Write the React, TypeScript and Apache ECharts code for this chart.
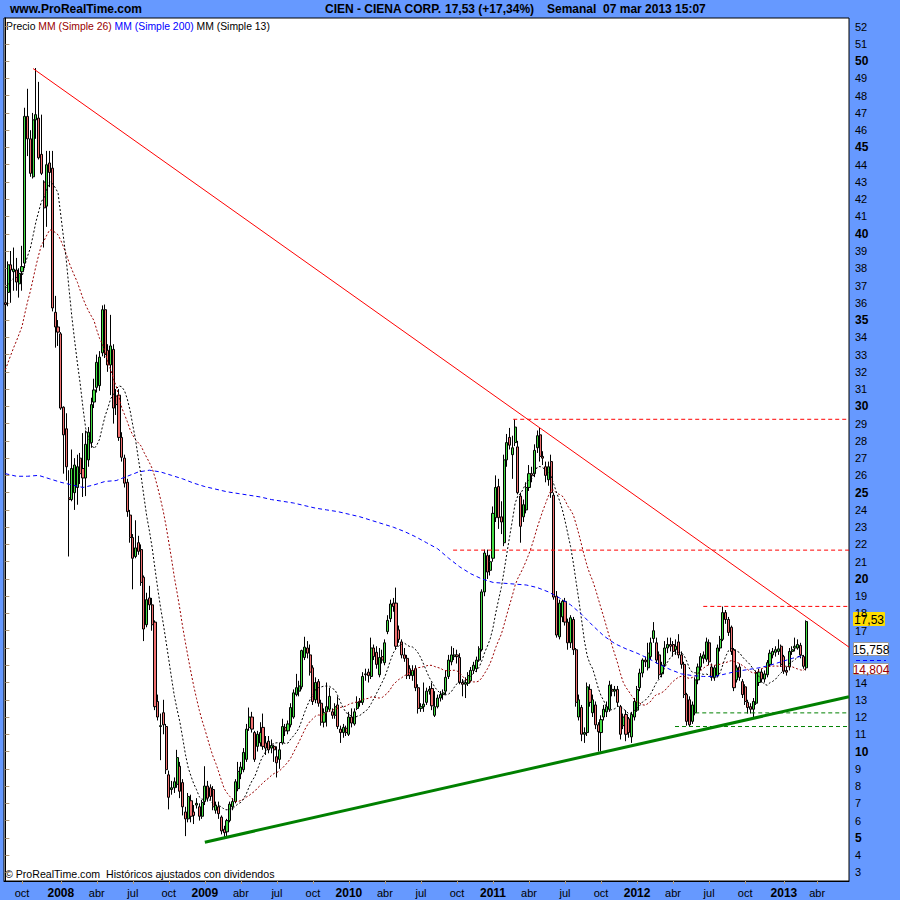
import React, { useEffect, useRef } from 'react';
import * as echarts from 'echarts';

const FONT = '"Liberation Sans", Arial, Helvetica, sans-serif';

// Weekly candles, [open, close, low, high]; first week = 2007-08-20
const ohlc2007 = [
  [36.0, 35.9, 35.7, 36.2], [36.6, 38.2, 35.8, 38.4], [38.2, 37.9, 36.0, 39.0], [37.8, 37.95, 36.7, 39.2],
  [37.9, 37.2, 36.7, 38.6], [37.1, 37.7, 36.3, 38.0], [37.8, 38.1, 36.7, 39.3], [38.3, 46.8, 38.0, 47.3],
  [46.8, 45.5, 44.5, 48.4], [45.5, 43.5, 43.3, 46.0], [43.3, 46.6, 43.2, 47.0], [46.6, 46.9, 45.5, 49.6],
  [46.7, 44.4, 44.3, 48.8], [44.6, 43.5, 43.4, 46.9], [43.0, 41.5, 39.2, 43.1], [41.6, 44.0, 40.4, 44.8],
  [44.1, 43.55, 42.7, 44.8], [43.8, 35.7, 35.5, 44.8], [35.45, 34.6, 33.4, 36.4], [34.6, 34.3, 33.5, 35.0],
];
const ohlc2008 = [
  [34.2, 29.9, 29.8, 34.3], [29.95, 28.35, 26.1, 30.0], [28.7, 26.5, 25.7, 29.6], [24.7, 24.6, 21.3, 26.3],
  [24.6, 26.4, 24.5, 27.5], [25.0, 26.6, 24.0, 27.0], [25.3, 26.5, 24.3, 27.2], [27.0, 26.1, 25.5, 27.3],
  [26.4, 25.85, 24.75, 28.45], [25.85, 27.8, 24.8, 28.6], [26.9, 28.5, 26.5, 28.8], [27.9, 30.1, 27.6, 30.5],
  [30.25, 30.95, 29.9, 31.6], [31.1, 32.55, 30.8, 33.0], [31.2, 32.85, 30.9, 33.2], [33.1, 35.6, 32.9, 35.85],
  [35.6, 33.0, 32.8, 35.9], [33.25, 32.4, 32.0, 33.6], [32.4, 33.5, 30.65, 35.3], [33.3, 29.9, 29.0, 33.6],
  [30.6, 30.1, 29.5, 31.0], [30.65, 28.2, 28.0, 31.0], [28.2, 27.05, 26.8, 28.5], [27.0, 25.55, 25.3, 27.2],
  [25.6, 23.9, 23.6, 25.8], [23.7, 22.4, 22.1, 24.0], [22.4, 21.2, 19.4, 22.6], [21.3, 21.8, 21.2, 23.4],
  [22.1, 21.6, 21.4, 22.5], [21.7, 19.8, 19.6, 22.0], [20.1, 17.1, 16.4, 20.2], [17.35, 18.8, 17.2, 19.2],
  [18.9, 18.5, 18.2, 19.6], [18.5, 17.35, 17.0, 18.9], [17.5, 12.6, 12.4, 17.6], [12.9, 12.0, 11.8, 13.3],
  [11.45, 11.5, 9.5, 12.2], [12.25, 11.55, 11.0, 13.0], [11.45, 8.95, 8.7, 11.6], [8.65, 7.35, 6.65, 8.9],
  [7.8, 7.9, 7.5, 8.3], [7.9, 8.25, 7.6, 8.5], [8.1, 9.65, 7.9, 10.1], [9.15, 7.7, 7.3, 9.4],
  [8.2, 6.8, 6.3, 8.4], [6.5, 6.1, 5.1, 6.8], [6.1, 7.4, 5.9, 7.6], [7.15, 6.25, 5.9, 7.5],
  [6.5, 6.3, 5.8, 6.9], [6.9, 7.0, 6.7, 7.3], [6.8, 6.25, 6.0, 7.0], [6.25, 7.05, 6.1, 7.2],
];
const ohlc2009 = [
  [7.1, 8.0, 6.9, 9.15], [8.0, 7.3, 7.1, 8.3], [7.9, 7.4, 7.2, 8.1], [7.8, 6.8, 6.6, 8.0],
  [6.6, 6.9, 6.4, 7.1], [6.8, 6.4, 6.1, 7.1], [6.2, 5.4, 5.2, 6.3], [5.5, 5.3, 5.0, 5.7],
  [5.35, 6.0, 5.1, 6.1], [6.0, 6.95, 5.9, 7.1], [6.8, 7.1, 6.6, 7.3], [7.1, 8.25, 7.0, 8.4],
  [7.85, 8.85, 7.7, 9.4], [8.7, 9.1, 8.4, 9.4], [8.95, 9.95, 8.8, 10.2], [9.55, 11.3, 9.4, 11.6],
  [11.4, 12.0, 11.2, 12.55], [12.0, 11.3, 11.1, 12.3], [11.1, 9.55, 9.4, 11.2], [10.3, 11.0, 10.0, 11.2],
  [10.5, 11.1, 10.3, 11.7], [11.4, 10.3, 10.1, 12.2], [10.5, 10.2, 9.8, 10.9], [10.6, 10.1, 9.9, 10.9],
  [10.2, 10.35, 9.9, 10.7], [10.3, 10.1, 9.4, 10.4], [9.7, 9.35, 8.5, 10.3], [9.55, 10.1, 9.0, 10.5],
  [10.5, 11.45, 10.4, 11.9], [11.4, 11.2, 10.9, 11.6], [11.2, 11.6, 11.0, 11.8], [11.55, 12.55, 11.4, 12.8],
  [12.0, 13.4, 11.9, 13.6], [13.3, 13.7, 13.2, 14.5], [13.5, 13.8, 13.2, 14.1], [13.75, 15.85, 13.6, 15.9],
  [15.45, 16.05, 15.3, 16.65], [16.0, 15.7, 15.4, 16.4], [15.6, 14.6, 14.4, 16.2], [14.85, 12.9, 12.7, 15.0],
  [13.0, 14.0, 12.8, 14.3], [14.05, 12.8, 12.6, 14.2], [12.8, 11.7, 11.5, 13.0], [11.7, 12.25, 11.4, 12.5],
  [12.3, 12.6, 11.45, 14.0], [12.45, 13.2, 12.3, 13.7], [12.3, 12.1, 11.9, 12.5], [12.1, 12.6, 11.9, 12.8],
  [12.7, 11.45, 11.3, 13.2], [11.3, 11.1, 10.5, 11.5], [11.1, 11.4, 10.8, 11.6], [11.35, 11.1, 10.9, 11.5],
];
const ohlc2010 = [
  [11.0, 12.0, 10.9, 12.3], [12.0, 11.65, 11.4, 12.5], [11.6, 12.3, 11.5, 12.5], [12.5, 12.85, 12.4, 13.2],
  [12.85, 12.9, 12.6, 13.1], [12.85, 14.35, 12.7, 14.6], [14.5, 14.45, 14.1, 14.8], [14.6, 14.4, 14.0, 14.8],
  [14.35, 16.0, 14.2, 16.6], [16.0, 15.5, 15.3, 16.2], [15.75, 15.05, 14.8, 16.1], [14.45, 15.45, 14.3, 16.0],
  [15.5, 15.3, 15.1, 15.9], [15.15, 16.3, 15.0, 16.5], [16.95, 17.6, 16.8, 17.9], [17.7, 18.55, 17.5, 18.8],
  [18.6, 18.4, 18.1, 18.9], [18.6, 16.1, 15.9, 19.5], [17.05, 16.5, 16.3, 17.3], [16.35, 15.6, 15.4, 16.5],
  [15.6, 15.4, 15.2, 16.0], [15.4, 14.4, 14.2, 15.6], [14.8, 14.4, 14.2, 15.0], [14.4, 14.7, 14.1, 15.0],
  [14.8, 13.7, 13.5, 15.0], [13.7, 12.5, 12.2, 13.9], [12.5, 12.6, 12.3, 12.8], [12.6, 12.75, 12.3, 14.0],
  [12.85, 13.5, 12.7, 13.7], [13.5, 13.6, 13.3, 13.8], [13.65, 12.65, 12.4, 14.0], [12.1, 12.6, 12.0, 13.5],
  [12.6, 13.1, 12.5, 13.3], [13.1, 13.3, 12.9, 13.5], [13.3, 13.4, 13.0, 13.6], [13.5, 14.3, 13.3, 14.7],
  [14.35, 15.3, 14.2, 15.6], [15.2, 15.6, 15.0, 16.1], [15.5, 15.6, 15.3, 16.0], [15.6, 15.5, 15.1, 15.9],
  [15.45, 14.0, 13.9, 15.7], [14.0, 13.9, 13.2, 14.2], [13.9, 14.0, 13.1, 14.3], [13.95, 14.4, 13.8, 14.6],
  [14.1, 14.7, 14.0, 14.9], [14.7, 15.0, 14.5, 15.2], [14.8, 15.3, 14.6, 15.5], [15.3, 15.95, 15.2, 16.1],
  [15.9, 19.25, 15.8, 19.4], [19.25, 21.5, 19.0, 21.7], [21.35, 20.4, 20.0, 21.7], [20.5, 21.0, 20.2, 21.4],
];
const ohlc2011 = [
  [21.2, 23.8, 21.0, 24.2], [23.55, 25.3, 23.3, 26.0], [25.35, 23.55, 22.9, 25.8], [23.6, 23.3, 22.6, 24.5],
  [22.1, 26.9, 21.9, 27.2], [26.9, 27.9, 26.5, 28.4], [28.2, 27.75, 27.5, 28.75], [27.2, 27.6, 25.8, 28.3],
  [27.9, 28.8, 27.7, 29.25], [27.65, 25.0, 24.9, 28.0], [24.8, 23.05, 22.1, 25.0], [23.6, 24.3, 23.3, 24.6],
  [24.0, 25.3, 23.8, 25.6], [25.3, 26.1, 25.1, 26.6], [26.1, 26.0, 25.6, 26.5], [26.1, 27.45, 25.9, 27.8],
  [27.6, 28.3, 27.3, 28.6], [28.35, 27.1, 26.8, 28.75], [27.1, 27.0, 26.6, 27.4], [26.5, 26.0, 25.6, 26.8],
  [25.75, 26.5, 25.4, 26.8], [26.8, 25.0, 24.7, 27.2], [24.85, 18.95, 18.8, 25.0], [19.0, 16.75, 16.6, 19.3],
  [16.65, 18.6, 16.5, 18.8], [17.8, 18.7, 17.5, 18.8], [18.7, 17.5, 17.3, 18.9], [17.5, 16.3, 15.9, 17.7],
  [16.3, 17.75, 16.0, 17.9], [17.65, 15.9, 15.6, 17.8], [15.9, 12.85, 12.6, 16.0], [12.0, 13.0, 11.8, 13.3],
  [12.55, 11.0, 10.6, 12.7], [11.0, 11.1, 10.5, 11.4], [11.1, 13.75, 10.9, 14.0], [13.6, 12.85, 12.6, 13.9],
  [12.25, 13.0, 12.0, 13.3], [12.7, 11.55, 11.3, 12.9], [11.55, 11.15, 10.0, 11.7], [11.1, 11.85, 10.0, 12.1],
  [12.0, 12.45, 11.8, 12.7], [12.3, 12.6, 12.0, 12.9], [12.45, 13.85, 12.3, 14.1], [13.6, 13.5, 13.2, 13.9],
  [13.5, 13.6, 13.2, 13.8], [13.6, 12.85, 12.6, 13.8], [12.6, 11.0, 10.7, 12.7], [11.5, 12.0, 11.3, 12.2],
  [12.15, 11.0, 10.6, 12.4], [11.9, 11.1, 10.8, 12.0], [10.85, 12.15, 10.5, 12.3], [12.0, 12.9, 11.8, 13.1],
];
const ohlc2012 = [
  [12.4, 13.6, 12.3, 13.8], [13.7, 14.55, 13.5, 14.8], [14.55, 15.3, 14.3, 15.4], [15.3, 15.2, 14.9, 15.5],
  [14.85, 15.7, 14.7, 16.3], [15.5, 16.3, 15.3, 16.6], [16.55, 17.0, 16.3, 17.5], [16.3, 15.3, 15.1, 16.6],
  [15.6, 14.45, 14.2, 15.8], [14.5, 15.0, 14.3, 15.2], [15.05, 16.0, 14.9, 16.4], [16.0, 16.2, 15.7, 16.6],
  [16.2, 16.1, 15.8, 16.6], [16.2, 15.8, 15.5, 16.4], [15.9, 16.1, 15.6, 16.5], [16.35, 15.6, 15.4, 16.8],
  [15.6, 15.05, 14.8, 15.8], [15.05, 13.3, 13.1, 15.2], [13.3, 11.75, 11.5, 13.4], [13.0, 11.55, 11.45, 13.2],
  [11.75, 12.7, 11.6, 12.9], [12.25, 14.15, 12.1, 14.3], [14.15, 14.9, 13.9, 15.1], [14.9, 15.5, 14.7, 15.7],
  [15.4, 15.6, 15.1, 15.8], [15.35, 16.35, 15.2, 16.6], [16.3, 15.2, 15.0, 16.5], [14.9, 14.3, 14.1, 15.1],
  [14.3, 14.85, 14.1, 15.0], [14.4, 16.0, 14.3, 16.2], [16.0, 16.5, 15.8, 16.7], [16.5, 18.05, 16.4, 18.4],
  [18.05, 17.65, 17.4, 18.2], [17.65, 16.9, 16.7, 17.8], [17.2, 15.8, 15.6, 17.3], [15.9, 13.7, 13.5, 16.0],
  [14.15, 14.85, 14.0, 15.0], [14.9, 14.3, 14.1, 15.1], [14.05, 13.3, 13.1, 14.2], [13.75, 12.9, 12.7, 13.9],
  [12.85, 12.55, 12.2, 13.0], [12.6, 12.45, 12.2, 12.8], [12.45, 12.9, 12.0, 13.1], [12.8, 14.55, 12.7, 14.7],
  [14.0, 14.6, 13.8, 14.8], [14.6, 14.2, 14.0, 14.8], [14.2, 14.5, 14.0, 14.7], [14.45, 15.15, 14.3, 15.3],
  [15.05, 15.7, 14.9, 15.9], [15.6, 15.8, 15.4, 16.0], [15.75, 15.9, 15.5, 16.1], [15.8, 15.95, 15.6, 16.5],
  [16.1, 15.05, 14.9, 16.2],
];
const ohlc2013 = [
  [15.5, 14.65, 14.5, 15.6], [14.7, 14.6, 14.4, 14.9], [14.9, 15.8, 14.7, 16.0], [15.8, 15.9, 15.6, 16.1],
  [16.0, 16.1, 15.8, 16.6], [16.0, 16.2, 15.9, 16.5], [16.15, 15.6, 15.4, 16.3], [15.5, 14.94, 14.8, 15.6],
  [14.85, 17.53, 14.7, 17.6],
];

// closes before the first visible week (feed the 13/26 week averages)
const priorCloses = [
  26.5, 26.8, 27.0, 27.3, 26.9, 27.2, 27.6, 27.4, 27.8, 27.9, 28.0, 27.6, 28.3,
  34.5, 35.5, 36.0, 36.8, 37.5, 37.8, 38.2, 38.5, 37.6, 37.0, 36.8, 36.5,
];

// 200-week average, read every 4 weeks
const ma200Every4 = [
  26.1, 25.95, 25.95, 26.0, 25.8, 25.6, 25.45, 25.3, 25.45, 25.65,
  25.7, 25.95, 26.2, 26.3, 26.2, 26.0, 25.8, 25.55, 25.35, 25.2,
  25.05, 24.95, 24.85, 24.75, 24.6, 24.5, 24.4, 24.25, 24.1, 24.0,
  23.9, 23.75, 23.6, 23.4, 23.2, 23.0, 22.75, 22.45, 22.1, 21.75,
  21.2, 20.7, 20.3, 20.0, 19.8, 19.75, 19.7, 19.65, 19.5, 19.25,
  18.9, 18.5, 17.95, 17.3, 16.7, 16.25, 15.95, 15.7, 15.4, 15.05,
  14.75, 14.5, 14.4, 14.35, 14.35, 14.5, 14.65, 14.75, 14.85, 15.0,
  15.2, 15.4, 15.55,
];

// trend lines: [weekIndex, price]
const resistanceLine = [[10, 49.57], [304.5, 16.05]];
const supportLine = [[72, 4.75], [304.5, 13.18]];
// horizontal levels: [startWeekIndex, price, colour]
const levels: [number, number, string][] = [
  [183.3, 29.25, '#ff0000'],
  [161.6, 21.67, '#ff0000'],
  [251.9, 18.41, '#ff0000'],
  [249.0, 12.24, '#008000'],
  [241.7, 11.45, '#008000'],
];

// price-axis labels (15 and 16 sit under the value tags)
const yTicks = Array.from({ length: 50 }, (_, i) => 3 + i);
const yLabelValues = yTicks.filter((v) => v !== 15 && v !== 16);
const monthTickNames = ['', '', '', 'abr', '', '', 'jul', '', '', 'oct', '', ''];
const START_UTC = Date.UTC(2007, 7, 20);
const TOTAL_SLOTS = 305;

const lastPriceTag = { value: 17.53, text: '17,53' };
const ma13Tag = { value: 15.758, text: '15,758' };
const ma26Tag = { value: 14.804, text: '14,804' };
const ma200Tag = 15.33;

const ohlc = [...ohlc2007, ...ohlc2008, ...ohlc2009, ...ohlc2010, ...ohlc2011, ...ohlc2012, ...ohlc2013];
const closes = ohlc.map((d) => d[1]);
const categories = Array.from({ length: TOTAL_SLOTS }, (_, i) =>
  new Date(START_UTC + i * 7 * 86400000).toISOString().slice(0, 10)
);

function tickLabel(i: number): string | null {
  const d = new Date(START_UTC + i * 7 * 86400000);
  if (d.getUTCDate() > 7) return null;
  const m = d.getUTCMonth();
  if (m === 0) return String(d.getUTCFullYear());
  return monthTickNames[m] || null;
}

function sma(period: number) {
  const all = [...priorCloses, ...closes];
  const off = priorCloses.length;
  return closes.map((_, i) => {
    let s = 0;
    for (let k = i + off - period + 1; k <= i + off; k++) s += all[k];
    return +(s / period).toFixed(3);
  });
}

const BG = '#6699ff';
const TICK = '#b09878';

export default function App() {
  const ref = useRef<HTMLDivElement>(null);
  useEffect(() => {
    const chart = echarts.init(ref.current!, null, { renderer: 'svg' });
    const ma13 = sma(13);
    const ma26 = sma(26);
    const series: any[] = [
      {
        type: 'candlestick',
        data: ohlc,
        barWidth: 2.6,
        itemStyle: {
          color: '#44dd44', color0: '#f07070',
          borderColor: '#000', borderColor0: '#000', borderWidth: 1,
        },
        silent: true,
      },
      {
        type: 'line', data: ma26, showSymbol: false, silent: true,
        lineStyle: { color: '#990000', width: 1, type: [2, 2] },
      },
      {
        type: 'line', data: ma13, showSymbol: false, silent: true,
        lineStyle: { color: '#000000', width: 1, type: [2, 2] },
      },
      {
        type: 'line', xAxisIndex: 1, data: ma200Every4.map((v, k) => [k * 4, v]),
        showSymbol: false, silent: true,
        lineStyle: { color: '#0000ff', width: 1, type: [4, 3] },
      },
      {
        type: 'line', xAxisIndex: 1, data: resistanceLine, showSymbol: false, silent: true,
        lineStyle: { color: '#ff0000', width: 1 },
      },
      {
        type: 'line', xAxisIndex: 1, data: supportLine, showSymbol: false, silent: true,
        lineStyle: { color: '#008000', width: 3 },
      },
      ...levels.map(([s, v, c]) => ({
        type: 'line', xAxisIndex: 1, data: [[s, v], [304.5, v]], showSymbol: false, silent: true,
        lineStyle: { color: c, width: 1, type: [4, 3] },
      })),
    ];

    chart.setOption({
      animation: false,
      backgroundColor: BG,
      grid: {
        left: 4, right: 51, top: 18, bottom: 19, show: true,
        backgroundColor: '#ffffff', borderColor: '#000000', borderWidth: 1,
      },
      xAxis: [
        {
          type: 'category', data: categories, boundaryGap: true,
          axisLine: { show: true, lineStyle: { color: '#000' } },
          axisTick: {
            show: true, length: 3, alignWithLabel: true, lineStyle: { color: TICK },
            interval: (i: number) => tickLabel(i) !== null,
          },
          axisLabel: {
            interval: (i: number) => tickLabel(i) !== null,
            margin: 5,
            formatter: (_v: string, i: number) => {
              const t = tickLabel(i);
              if (!t) return '';
              return /^\d+$/.test(t) ? `{y|${t}}` : `{m|${t}}`;
            },
            rich: {
              y: { fontFamily: FONT, fontSize: 12, fontWeight: 'bold', color: '#000', lineHeight: 14 },
              m: { fontFamily: FONT, fontSize: 11, color: '#000', lineHeight: 14 },
            },
          },
          splitLine: { show: false },
        },
        { type: 'value', min: -0.5, max: TOTAL_SLOTS - 0.5, show: false },
      ],
      yAxis: {
        type: 'value', position: 'right', min: 2.5, max: 52.5,
        axisLine: { show: true, lineStyle: { color: '#000' } },
        axisTick: { show: true, length: 4, lineStyle: { color: TICK }, customValues: yTicks },
        axisLabel: {
          customValues: yLabelValues, margin: 6,
          formatter: (v: number) => (v % 5 === 0 ? `{b|${v}}` : `{n|${v}}`),
          rich: {
            b: { fontFamily: FONT, fontSize: 12, fontWeight: 'bold', color: '#000' },
            n: { fontFamily: FONT, fontSize: 11, color: '#000' },
          },
        },
        splitLine: { show: false },
      },
      series,
    });

    const yOf = (v: number) => chart.convertToPixel({ yAxisIndex: 0 }, v) as number;
    const tag = (id: string, v: number, dy: number, h: number, text: string, fill: string, stroke: string, color: string, w: number) => ({
      id, type: 'group', x: 853.5, y: Math.round(yOf(v)) + dy + 0.5,
      children: [
        { type: 'rect', shape: { x: 0, y: 0, width: w, height: h }, style: { fill, stroke, lineWidth: 1 } },
        {
          type: 'text', x: w / 2, y: h / 2 + 0.5,
          style: { text, fill: color, font: `12px ${FONT}`, align: 'center', verticalAlign: 'middle' },
        },
      ],
    });

    chart.setOption({
      graphic: [
        {
          id: 'site', type: 'text', x: 10, y: 9,
          style: { text: 'www.ProRealTime.com', fill: '#000', font: `bold 12px ${FONT}`, verticalAlign: 'middle' },
        },
        {
          id: 'name', type: 'text', x: 325, y: 9,
          style: { text: 'CIEN - CIENA CORP.', fill: '#000', font: `bold 12px ${FONT}`, verticalAlign: 'middle' },
        },
        {
          id: 'price', type: 'text', x: 445, y: 9,
          style: { text: '17,53 (+17,34%)', fill: '#000', font: `bold 12px ${FONT}`, verticalAlign: 'middle' },
        },
        {
          id: 'when', type: 'text', x: 547, y: 9,
          style: { text: 'Semanal  07 mar 2013 15:07', fill: '#000', font: `bold 12px ${FONT}`, verticalAlign: 'middle' },
        },
        {
          id: 'legend', type: 'text', x: 6, y: 26,
          style: {
            text: '{k|Precio} {r|MM (Simple 26)} {b|MM (Simple 200)} {k|MM (Simple 13)}',
            font: `10.4px ${FONT}`, verticalAlign: 'middle',
            rich: {
              k: { fill: '#000', font: `10.4px ${FONT}` },
              r: { fill: '#990000', font: `10.4px ${FONT}` },
              b: { fill: '#0000ff', font: `10.4px ${FONT}` },
            },
          },
        },
        {
          id: 'footer', type: 'text', x: 5, y: 874,
          style: {
            text: '© ProRealTime.com  Históricos ajustados con dividendos',
            fill: '#000', font: `10.6px ${FONT}`, verticalAlign: 'middle',
          },
        },
        {
          id: 'ma200tag', type: 'line',
          shape: { x1: 856, y1: Math.round(yOf(ma200Tag)) + 0.5, x2: 886, y2: Math.round(yOf(ma200Tag)) + 0.5 },
          style: { stroke: '#0000ff', lineWidth: 1, lineDash: [4, 3] },
        },
        tag('ma13tag', ma13Tag.value, -10, 13, ma13Tag.text, '#ffffff', '#999999', '#000000', 35),
        tag('ma26tag', ma26Tag.value, -6, 11, ma26Tag.text, '#ffffff', '#999999', '#990000', 35),
        tag('lasttag', lastPriceTag.value, -10, 13, lastPriceTag.text, '#ffdd00', '#ffdd00', '#000000', 31),
      ],
    });

    return () => chart.dispose();
  }, []);

  return <div ref={ref} style={{ position: 'fixed', left: 0, top: 0, width: 900, height: 900 }} />;
}
